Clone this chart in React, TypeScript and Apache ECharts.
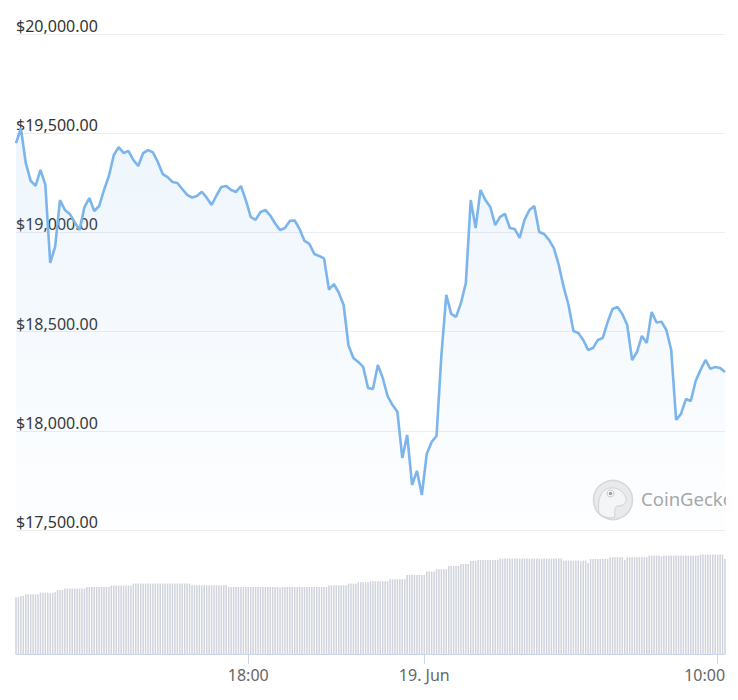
import React, { useEffect, useRef } from "react";
import * as echarts from "echarts";

// ---- data -------------------------------------------------------------
const START_UTC = Date.UTC(2022, 5, 18, 10, 5); // first sample, 18 Jun 10:05
const MINUTE = 60000;
const PRICE_STEP_MIN = 10;
const VOLUME_STEP_MIN = 5;

// BTC price (USD), one reading every 10 minutes
const priceUsd = [
  19450, 19525, 19350, 19260, 19235, 19315, 19241, 18846, 18928, 19163,
  19113, 19093, 19052, 19012, 19128, 19173, 19108, 19133, 19214, 19284,
  19390, 19430, 19400, 19410, 19365, 19335, 19400, 19415, 19403, 19355,
  19294, 19279, 19254, 19249, 19219, 19189, 19176, 19184, 19205, 19175,
  19138, 19186, 19229, 19234, 19214, 19204, 19234, 19163, 19078, 19063,
  19103, 19113, 19085, 19045, 19012, 19022, 19058, 19060, 19017, 18957,
  18942, 18891, 18881, 18869, 18712, 18740, 18697, 18634, 18430, 18367,
  18347, 18322, 18216, 18211, 18332, 18266, 18175, 18130, 18096, 17863,
  17979, 17727, 17798, 17677, 17883, 17944, 17974, 18382, 18685, 18589,
  18574, 18644, 18745, 19163, 19022, 19214, 19163, 19128, 19037, 19078,
  19093, 19022, 19017, 18972, 19063, 19113, 19133, 19002, 18992, 18962,
  18921, 18836, 18725, 18634, 18503, 18493, 18458, 18407, 18417, 18458,
  18468, 18548, 18614, 18624, 18589, 18533, 18357, 18397, 18478, 18443,
  18599, 18546, 18550, 18508, 18407, 18055, 18085, 18160, 18150, 18251,
  18307, 18357, 18312, 18322, 18317, 18296,
];

// 24h trading volume (USD bn), one reading every 5 minutes
const volumeUsdBn = [
  28.4, 28.4, 29, 29, 29.9, 29.9, 29.9, 29.9, 29.9, 29.9,
  30.7, 30.7, 30.7, 30.7, 30.4, 30.4, 31, 32, 32, 32,
  32.7, 32.7, 32.7, 32.7, 32.7, 32.7, 32.7, 32.7, 32.7, 33.5,
  33.5, 33.5, 33.5, 33.5, 33.5, 33.5, 33.5, 33.5, 33.5, 34.2,
  34.2, 34.2, 34.2, 34.2, 34.2, 34.2, 34.2, 34.2, 35.2, 35.2,
  35.2, 35.2, 35.2, 35.2, 35.2, 35.2, 35.2, 35.2, 35.2, 35.2,
  35.2, 35.2, 35.2, 35.2, 35.2, 35.2, 35.2, 35.2, 35.2, 35.2,
  35.2, 35.2, 34.4, 34.4, 34.4, 34.4, 34.4, 34.4, 34.4, 34.4,
  34.4, 34.4, 34.4, 34.4, 34.4, 34.4, 34.4, 33.5, 33.5, 33.5,
  33.5, 33.5, 33.5, 33.5, 33.5, 33.5, 33.5, 33.5, 33.5, 33.5,
  33.5, 33.5, 33.5, 33.5, 33.5, 33.5, 33.5, 33.5, 33.1, 33.5,
  33.5, 33.5, 33.5, 33.5, 33.5, 33.5, 33.5, 33.5, 33.5, 33.5,
  33.5, 33.5, 33.5, 33.5, 33.5, 33.5, 33.5, 33.5, 34.4, 34.4,
  34.4, 34.4, 34.4, 34.4, 34.4, 34.4, 35.2, 35.2, 35.2, 35.2,
  35.9, 35.9, 35.9, 35.9, 35.9, 36.4, 36.4, 36.4, 36.4, 36.4,
  36.4, 36.4, 36.4, 37.4, 37.4, 37.4, 37.4, 37.4, 37.4, 37.4,
  39.5, 39.5, 39.5, 39.5, 39.5, 39.5, 39.5, 39.5, 41.2, 41.2,
  41.2, 41.2, 42.4, 42.4, 42.4, 42.4, 42.4, 44, 44, 44,
  44, 44, 45, 45, 45, 45, 46.5, 46.5, 46.5, 47,
  47, 47, 47, 47, 47, 47, 47, 47, 47.7, 47.7,
  47.7, 47.7, 47.7, 47.7, 47.7, 47.7, 47.7, 47.7, 47.7, 47.7,
  47.7, 47.7, 47.7, 47.7, 47.7, 47.7, 47.7, 47.7, 47.7, 47.7,
  47.7, 47.7, 47.7, 47.7, 46.7, 46.7, 46.7, 46.7, 46.7, 46.7,
  46.7, 46.2, 46.7, 46.7, 45.5, 47.5, 47.5, 47.5, 47.5, 47.5,
  47.5, 47.5, 47.5, 48.4, 48.4, 48.4, 48.4, 48.4, 48.4, 47,
  48.4, 48.4, 48.4, 48.4, 48.4, 48.4, 48.4, 48.4, 48.4, 49.2,
  49.2, 49.2, 49.2, 49.2, 48.7, 49.2, 49.2, 49.2, 49.2, 49.2,
  49.2, 49.2, 49.2, 49.2, 49.2, 49.2, 49.2, 49.2, 49.2, 49.2,
  49.7, 49.7, 49.7, 49.7, 49.7, 49.7, 49.7, 49.7, 49.7, 49.7,
  47.5,
];

const priceAxisMin = 17500;
const priceAxisMax = 20000;
const priceAxisStep = 500;

const xTickTimesUtc = [
  Date.UTC(2022, 5, 18, 18, 0),
  Date.UTC(2022, 5, 19, 0, 0),
  Date.UTC(2022, 5, 19, 10, 0),
];
const xTickLabels = ["18:00", "19. Jun", "10:00"];

const watermarkText = "CoinGecko";

// ---- helpers ------------------------------------------------------------
function formatUsd(v: number): string {
  const [intPart, dec] = v.toFixed(2).split(".");
  return "$" + intPart.replace(/\B(?=(\d{3})+(?!\d))/g, ",") + "." + dec;
}

const END_UTC = START_UTC + (priceUsd.length - 1) * PRICE_STEP_MIN * MINUTE;

const FONT = "'Noto Sans', 'Liberation Sans', sans-serif";

echarts.graphic.registerShape(
  "geckoHead",
  echarts.graphic.extendPath(
    "M-14,13 C-16,2 -13,-11 -3,-12 C5,-13 11,-8 13,-2 C14,3 11,6 5,6 C2,6 1,10 2,17 C-4,19 -10,17 -14,13 Z",
    {}
  )
);

export default function App() {
  const ref = useRef<HTMLDivElement>(null);

  useEffect(() => {
    if (!ref.current) return;
    const chart = echarts.init(ref.current, undefined, { renderer: "svg" });

    const priceData = priceUsd.map((p, i) => [START_UTC + i * PRICE_STEP_MIN * MINUTE, p]);
    const volumeData = volumeUsdBn.map((v, j) => [START_UTC + j * VOLUME_STEP_MIN * MINUTE, v]);

    chart.setOption({
      animation: false,
      backgroundColor: "#ffffff",
      textStyle: { fontFamily: FONT },
      grid: [
        { left: 16, right: 13, top: 34, height: 496 },
        { left: 16, right: 13, top: 544, height: 110 },
      ],
      xAxis: [
        {
          type: "value",
          gridIndex: 0,
          min: START_UTC,
          max: END_UTC,
          show: false,
          splitLine: { show: false },
        },
        {
          type: "value",
          gridIndex: 1,
          min: START_UTC,
          max: END_UTC,
          axisLine: { show: true, lineStyle: { color: "#ccd6eb", width: 1 } },
          axisTick: {
            show: true,
            customValues: xTickTimesUtc,
            length: 10,
            lineStyle: { color: "#ccd6eb", width: 1 },
          },
          splitLine: { show: false },
          axisLabel: {
            customValues: xTickTimesUtc,
            margin: 13,
            fontSize: 16,
            color: "#666666",
            fontFamily: FONT,
            formatter: (val: number) => {
              const idx = xTickTimesUtc.indexOf(val);
              const label = idx >= 0 ? xTickLabels[idx] : "";
              return idx === xTickTimesUtc.length - 1 ? "{last|" + label + "}" : label;
            },
            rich: {
              last: {
                fontSize: 16,
                color: "#666666",
                fontFamily: FONT,
                padding: [0, 26, 0, 0],
              },
            },
          },
        },
      ],
      yAxis: [
        {
          type: "value",
          gridIndex: 0,
          min: priceAxisMin,
          max: priceAxisMax,
          interval: priceAxisStep,
          axisLine: { show: false },
          axisTick: { show: false },
          splitLine: { show: true, lineStyle: { color: "#eeeeee", width: 1 } },
          axisLabel: {
            inside: true,
            margin: 0,
            verticalAlign: "bottom",
            fontSize: 16,
            color: "#333333",
            fontFamily: FONT,
            formatter: (v: number) => formatUsd(v),
          },
        },
        {
          type: "value",
          gridIndex: 1,
          min: 0,
          max: 55,
          show: false,
          splitLine: { show: false },
        },
      ],
      series: [
        {
          name: "Price",
          type: "line",
          xAxisIndex: 0,
          yAxisIndex: 0,
          data: priceData,
          symbol: "none",
          showSymbol: false,
          lineStyle: { color: "#7cb5ec", width: 2.6 },
          itemStyle: { color: "#7cb5ec" },
          areaStyle: {
            origin: "start",
            color: new echarts.graphic.LinearGradient(0, 0, 0, 1, [
              { offset: 0, color: "rgba(124,181,236,0.19)" },
              { offset: 1, color: "rgba(124,181,236,0.02)" },
            ]),
          },
          z: 3,
        },
        {
          name: "Volume",
          type: "bar",
          xAxisIndex: 1,
          yAxisIndex: 1,
          data: volumeData,
          barWidth: 1.5,
          itemStyle: { color: "#d0d3db" },
        },
      ],
      graphic: [
        {
          type: "circle",
          shape: { cx: 613, cy: 500, r: 19.5 },
          style: { fill: "#ebebeb", stroke: "#d8d8d8", lineWidth: 1.5 },
          silent: true,
        },
        {
          type: "geckoHead",
          x: 613,
          y: 500,
          scaleX: 1,
          scaleY: 1,
          style: { fill: "#f6f6f6", stroke: "#d2d2d2", lineWidth: 1 },
          silent: true,
        },
        {
          type: "circle",
          shape: { cx: 610.5, cy: 493.5, r: 3.4 },
          style: { fill: "#ffffff", stroke: "#c4c4c4", lineWidth: 1 },
          silent: true,
        },
        {
          type: "circle",
          shape: { cx: 610.5, cy: 493.5, r: 1.8 },
          style: { fill: "#9c9c9c" },
          silent: true,
        },
        {
          type: "text",
          x: 641,
          y: 498,
          style: {
            text: watermarkText,
            fontSize: 18.5,
            fontFamily: FONT,
            fill: "#a6a6a6",
            verticalAlign: "middle",
            align: "left",
          },
          silent: true,
        },
        {
          type: "rect",
          shape: { x: 726, y: 470, width: 12, height: 60 },
          style: { fill: "#ffffff" },
          silent: true,
        },
      ],
    });

    return () => {
      chart.dispose();
    };
  }, []);

  return (
    <div
      ref={ref}
      style={{ position: "absolute", left: 0, top: 0, width: 738, height: 700 }}
    />
  );
}
